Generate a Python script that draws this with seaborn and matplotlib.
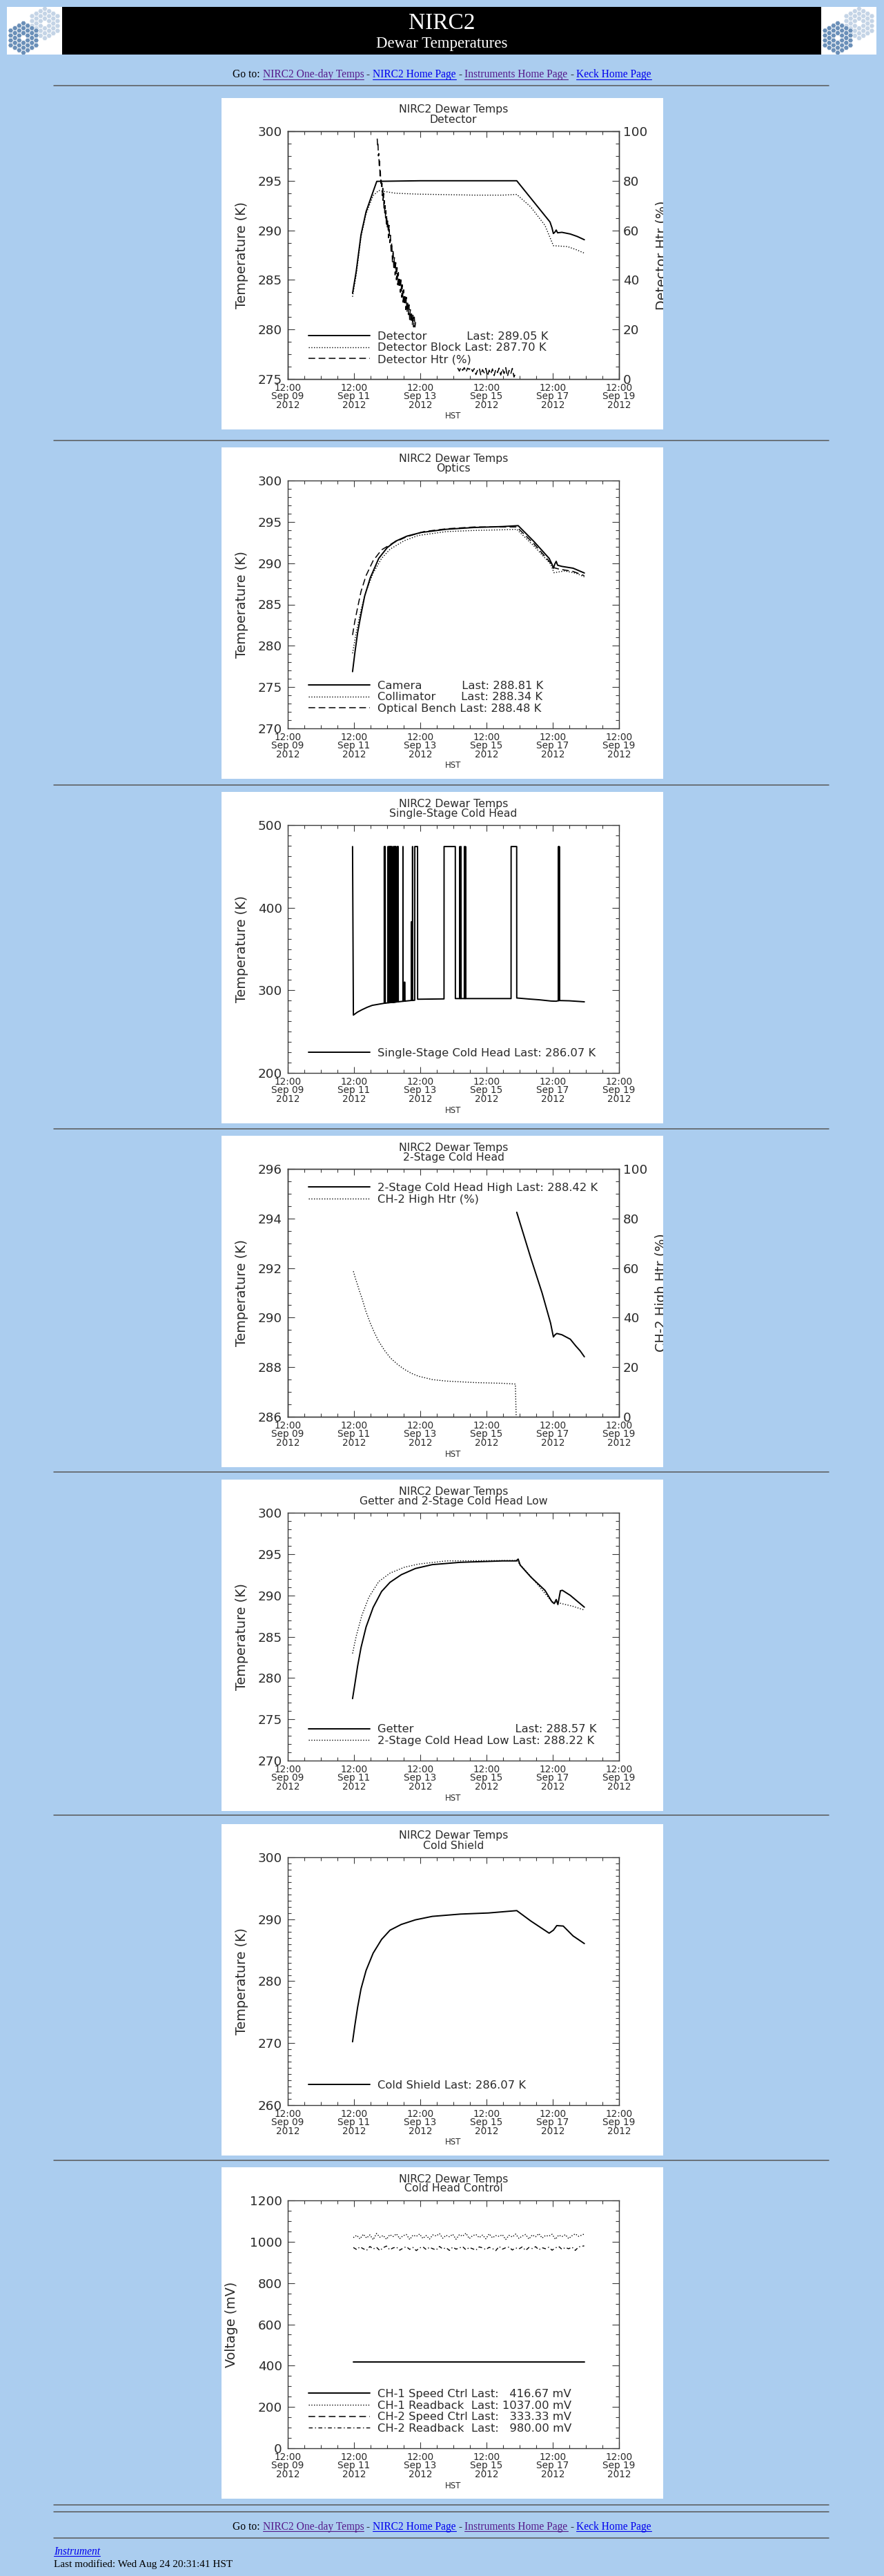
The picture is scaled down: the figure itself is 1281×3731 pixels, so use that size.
import numpy as np
import pandas as pd
import matplotlib
matplotlib.use("Agg")
import matplotlib.pyplot as plt
from matplotlib.lines import Line2D
from matplotlib.patches import Rectangle, RegularPolygon
from matplotlib.ticker import MultipleLocator, AutoMinorLocator, StrMethodFormatter
from matplotlib.transforms import Bbox, TransformedBbox
import seaborn as sns

# ------------------------------------------------------------------ data
# time axis: days since 12:00 HST, Sep 09 2012
T0 = "2012-09-09 12:00"
xtick_labels = ["12:00\nSep 09\n2012", "12:00\nSep 11\n2012", "12:00\nSep 13\n2012",
                "12:00\nSep 15\n2012", "12:00\nSep 17\n2012", "12:00\nSep 19\n2012"]

# Panel 1 - Detector
det_day = [1.956, 2.066, 2.211, 2.364, 2.534, 2.687, 4.000, 5.500, 6.913, 7.917,
           7.976, 8.019, 8.061, 8.104, 8.146, 8.274, 8.529, 8.741, 8.954]
det_temp = [283.65, 285.85, 289.56, 291.88, 293.50, 294.94, 295.00, 295.00, 295.00, 290.84,
            290.26, 289.68, 289.80, 290.03, 289.75, 289.80, 289.63, 289.38, 289.05]
blk_day = [1.956, 2.066, 2.211, 2.364, 2.577, 2.747, 2.917, 3.257, 3.937, 4.787,
           5.638, 6.488, 6.913, 7.338, 7.764, 8.019, 8.444, 8.699, 8.954]
blk_temp = [283.30, 285.50, 289.33, 291.65, 293.50, 294.02, 293.92, 293.74, 293.65, 293.60,
            293.55, 293.55, 293.62, 292.35, 290.50, 288.45, 288.36, 288.06, 287.70]
htrA_day = [2.700, 2.712, 2.724, 2.736, 2.748, 2.760, 2.772, 2.784, 2.796, 2.808,
            2.820, 2.832, 2.844, 2.856, 2.868, 2.880, 2.892, 2.904, 2.916, 2.928,
            2.940, 2.952, 2.964, 2.976, 2.988, 3.000, 3.020, 3.040, 3.060, 3.080,
            3.100, 3.120, 3.140, 3.160, 3.180, 3.200, 3.220, 3.240, 3.260, 3.280,
            3.300, 3.320, 3.340, 3.360, 3.380, 3.400, 3.420, 3.440, 3.460, 3.480,
            3.500, 3.520, 3.540, 3.560, 3.580, 3.600, 3.620, 3.640, 3.660, 3.680,
            3.700, 3.720, 3.740, 3.760, 3.780, 3.800, 3.820, 3.840, 3.860]
htrA_pct = [97, 94, 95, 90, 91, 86, 88, 82, 84, 79,
            81, 77, 79, 74, 77, 72, 75, 69, 72, 67,
            70, 65, 68, 62, 66, 61, 64, 57, 62, 55,
            58, 51, 55, 47, 52, 45, 49, 42, 47, 40,
            45, 38, 43, 37, 41, 35, 40, 33, 38, 31,
            36, 30, 34, 28, 33, 27, 31, 26, 30, 24,
            28, 23, 27, 22, 26, 21, 25, 21, 23]
htrB_day = [5.13, 5.18, 5.23, 5.28, 5.33, 5.38, 5.43, 5.48, 5.53, 5.58,
            5.63, 5.68, 5.73, 5.78, 5.83, 5.88, 5.93, 5.98, 6.03, 6.08,
            6.13, 6.18, 6.23, 6.28, 6.33, 6.38, 6.43, 6.48, 6.53, 6.58,
            6.63, 6.68, 6.73, 6.78, 6.83, 6.88]
htrB_pct = [4.5, 3.2, 4.8, 3.5, 4.6, 2.8, 4.4, 3.9, 4.7, 3.0,
            4.2, 1.8, 3.6, 4.5, 1.5, 3.8, 2.5, 4.3, 1.2, 3.6,
            2.0, 4.1, 1.4, 3.9, 2.6, 4.4, 1.6, 4.2, 2.2, 4.6,
            1.0, 3.5, 2.0, 4.3, 0.8, 2.5]

# Panel 2 - Optics
cam_day = [1.956, 2.024, 2.109, 2.211, 2.321, 2.491, 2.747, 3.002, 3.257, 3.597, 4.022, 4.787,
           5.638, 6.488, 6.956, 7.423, 7.891, 7.976, 8.019, 8.061, 8.104, 8.146, 8.274, 8.614, 8.954]
cam_temp = [276.87, 279.09, 281.58, 283.80, 286.01, 288.23, 290.58, 291.88, 292.66, 293.27, 293.71, 294.10,
            294.32, 294.43, 294.54, 292.66, 290.58, 289.89, 289.39, 289.89, 290.22, 289.75, 289.61, 289.39, 288.81]
col_day = [1.956, 2.066, 2.211, 2.364, 2.577, 2.832, 3.087, 3.512, 3.937, 4.787,
           5.638, 6.488, 6.913, 7.423, 7.934, 8.036, 8.359, 8.699, 8.954]
col_temp = [279.09, 281.58, 284.35, 286.57, 288.78, 290.58, 291.69, 292.71, 293.35, 293.82,
            293.96, 294.04, 294.10, 292.11, 289.89, 288.84, 289.06, 288.78, 288.34]
ben_day = [1.956, 2.024, 2.109, 2.211, 2.364, 2.577, 2.832, 3.172, 3.597, 4.107,
           4.787, 5.638, 6.913, 7.423, 7.934, 8.019, 8.189, 8.614, 8.954]
ben_temp = [281.30, 282.96, 284.63, 286.57, 288.50, 290.30, 291.61, 292.44, 293.21, 293.82,
            294.16, 294.38, 294.38, 292.38, 290.03, 289.47, 289.28, 289.00, 288.48]

# Panel 3 - Single-Stage Cold Head
ssch_day = [1.956, 1.981, 2.100, 2.240, 2.400, 2.550, 2.750, 2.912,
            2.914, 2.918, 2.938, 2.940, 2.944,
            3.025, 3.027, 3.031, 3.058, 3.060, 3.064,
            3.085, 3.087, 3.091, 3.110, 3.112, 3.116,
            3.136, 3.138, 3.142, 3.178, 3.180, 3.184, 3.188, 3.191,
            3.212, 3.214, 3.218, 3.238, 3.240, 3.244,
            3.263, 3.265, 3.269, 3.306, 3.308, 3.312,
            3.331, 3.333, 3.337, 3.476, 3.478, 3.482,
            3.527, 3.529, 3.533, 3.731, 3.733, 3.737,
            3.765, 3.767, 3.771, 3.833, 3.835, 3.918, 3.920,
            4.300, 4.717, 4.719, 5.058, 5.060,
            5.194, 5.196, 5.200, 5.228, 5.230, 5.234,
            5.330, 5.332, 5.336, 5.364, 5.366, 5.370,
            6.741, 6.743, 6.911, 6.913,
            7.300, 7.600, 7.950, 8.100, 8.170, 8.172, 8.176, 8.195, 8.197, 8.201,
            8.500, 8.800, 8.954]
ssch_temp = [474, 270.0, 273.5, 276.5, 279.5, 281.8, 283.2, 284.3,
             474, 284.3, 284.4, 474, 284.4,
             284.9, 474, 284.9, 285.0, 474, 285.0,
             285.1, 474, 285.1, 285.2, 474, 285.2,
             285.3, 474, 285.3, 285.5, 474, 285.5, 325, 285.5,
             285.6, 474, 285.6, 285.7, 474, 285.7,
             285.8, 474, 285.8, 286.0, 474, 286.0,
             286.1, 474, 286.1, 286.7, 474, 286.7,
             286.9, 310, 286.9, 287.7, 383, 287.7,
             287.8, 474, 287.8, 288.0, 474, 474, 289.2,
             289.4, 289.6, 474, 474, 290.0,
             290.0, 474, 290.0, 290.0, 474, 290.0,
             290.0, 474, 290.0, 290.0, 474, 290.0,
             290.0, 474, 474, 290.7,
             289.4, 288.5, 287.0, 286.8, 287.4, 474, 287.5, 287.6, 474, 287.6,
             287.3, 286.5, 286.07]

# Panel 4 - 2-Stage Cold Head
ch2hi_day = [6.913, 7.338, 7.679, 7.934, 8.019, 8.070, 8.121, 8.274, 8.529, 8.699, 8.827, 8.954]
ch2hi_temp = [294.25, 292.40, 290.99, 289.78, 289.22, 289.31, 289.36, 289.31, 289.13, 288.85, 288.66, 288.42]
ch2htr_day = [1.981, 2.050, 2.109, 2.170, 2.236, 2.360, 2.491, 2.620, 2.747, 2.920, 3.087, 3.300,
              3.512, 3.720, 3.937, 4.362, 4.787, 5.638, 6.488, 6.871, 6.896]
ch2htr_pct = [58.7, 55.5, 53.1, 50.5, 48.0, 42.5, 37.8, 33.8, 30.4, 26.8, 23.9, 21.3,
              19.2, 17.6, 16.4, 15.0, 14.4, 13.8, 13.5, 13.2, 0.0]

# Panel 5 - Getter and 2-Stage Cold Head Low
get_day = [1.956, 2.024, 2.109, 2.211, 2.364, 2.577, 2.832, 3.087, 3.427, 3.852, 4.362, 5.213, 6.488,
           6.896, 6.956, 7.015, 7.338, 7.764, 7.976, 8.044, 8.104, 8.155, 8.231, 8.291, 8.529, 8.954]
get_temp = [277.50, 279.22, 281.44, 283.67, 286.17, 288.53, 290.47, 291.58, 292.50, 293.25, 293.72, 294.00, 294.17,
            294.17, 294.39, 293.67, 292.22, 290.61, 289.22, 289.00, 289.50, 288.89, 290.56, 290.61, 290.00, 288.57]
low_day = [1.956, 2.066, 2.236, 2.449, 2.747, 3.087, 3.512, 3.937, 4.787, 6.913,
           7.015, 7.338, 7.976, 8.189, 8.614, 8.954]
low_temp = [282.97, 285.06, 287.56, 289.78, 291.67, 292.69, 293.39, 293.78, 294.17, 294.22,
            293.72, 292.28, 289.22, 289.08, 288.67, 288.22]

# Panel 6 - Cold Shield
shd_day = [1.956, 2.024, 2.109, 2.211, 2.364, 2.577, 2.832, 3.087, 3.427, 3.852,
           4.362, 5.213, 6.063, 6.913, 7.338, 7.891, 8.019, 8.121, 8.316, 8.614, 8.954]
shd_temp = [270.22, 272.82, 275.79, 278.76, 281.73, 284.52, 286.74, 288.23, 289.16, 289.90,
            290.46, 290.83, 291.01, 291.39, 289.71, 287.75, 288.23, 288.97, 288.90, 287.30, 286.07]

# Panel 7 - Cold Head Control
ch1spd_day = [1.98, 8.95]
ch1spd_mv = [416.67, 416.67]
ctrl_day = [1.98, 2.08, 2.18, 2.28, 2.38, 2.48, 2.58, 2.68, 2.78, 2.88,
            2.98, 3.08, 3.18, 3.28, 3.38, 3.48, 3.58, 3.68, 3.78, 3.88,
            3.98, 4.08, 4.18, 4.28, 4.38, 4.48, 4.58, 4.68, 4.78, 4.88,
            4.98, 5.08, 5.18, 5.28, 5.38, 5.48, 5.58, 5.68, 5.78, 5.88,
            5.98, 6.08, 6.18, 6.28, 6.38, 6.48, 6.58, 6.68, 6.78, 6.88,
            6.98, 7.08, 7.18, 7.28, 7.38, 7.48, 7.58, 7.68, 7.78, 7.88,
            7.98, 8.08, 8.18, 8.28, 8.38, 8.48, 8.58, 8.68, 8.78, 8.95]
ch1rb_mv = [1020, 1031, 1014, 1036, 1018, 1033, 1010, 1040, 1022, 1030,
            1012, 1034, 1025, 1038, 1015, 1029, 1035, 1011, 1032, 1026,
            1037, 1016, 1030, 1013, 1033, 1028, 1039, 1017, 1031, 1024,
            1036, 1012, 1034, 1027, 1041, 1015, 1029, 1035, 1020, 1032,
            1014, 1038, 1019, 1030, 1026, 1034, 1011, 1031, 1023, 1037,
            1016, 1028, 1035, 1013, 1033, 1024, 1039, 1018, 1030, 1027,
            1036, 1012, 1032, 1025, 1034, 1015, 1029, 1038, 1026, 1037]
ch2rb_mv = [972, 962, 975, 966, 958, 977, 965, 973, 957, 971,
            979, 961, 970, 974, 959, 969, 976, 963, 972, 957,
            970, 975, 962, 973, 966, 960, 977, 965, 971, 958,
            974, 964, 970, 976, 961, 972, 966, 959, 975, 970,
            962, 973, 967, 957, 977, 964, 971, 974, 960, 970,
            965, 975, 958, 972, 967, 976, 961, 971, 966, 973,
            959, 970, 977, 963, 972, 966, 974, 958, 975, 980]

# ------------------------------------------------------------------ style
PAGE_BG = "#abcdef"
TXT = "#2b2b2b"
AXC = "#3a3a3a"
LINK = "#0000ee"
VISITED = "#551a8b"
SERIF = "Liberation Serif"

W, H, DPI = 1281, 3731, 100
sns.set_theme(style="ticks")
plt.rcParams["font.family"] = ["DejaVu Sans"]
plt.rcParams["lines.scale_dashes"] = False
plt.rcParams["axes.linewidth"] = 1.0

SOLID = dict(color="black", linewidth=1.4, linestyle="-")
DOT = dict(color="black", linewidth=1.0, linestyle=(0, (1.0, 1.7)))
DASH = dict(color="black", linewidth=1.1, linestyle=(0, (7, 3.6)))
DASHDOT = dict(color="black", linewidth=1.0, linestyle=(0, (4, 2.5, 1, 2.5)))

fig = plt.figure(figsize=(W / DPI, H / DPI), dpi=DPI, facecolor=PAGE_BG)


def fx(px):
    return px / W


def fy(py):
    return 1 - py / H


def to_time(days):
    return pd.Timestamp(T0) + pd.to_timedelta(np.asarray(days, dtype=float), unit="D")


def panel(top, subtitle):
    fig.add_artist(Rectangle((fx(321), fy(top + 480)), 640 / W, 480 / H,
                             transform=fig.transFigure, facecolor="white",
                             edgecolor="none", zorder=-5))
    ax = fig.add_axes([fx(417), fy(top + 48 + 359), 480 / W, 359 / H])
    ax.set_facecolor("white")
    fig.text(fx(657), fy(top + 17), "NIRC2 Dewar Temps", ha="center", va="center",
             fontsize=11.3, color=TXT)
    fig.text(fx(657), fy(top + 31), subtitle, ha="center", va="center",
             fontsize=11.3, color=TXT)
    return ax


def draw_series(ax, days, vals, st, seg=None):
    df = pd.DataFrame({"time": to_time(days), "value": vals})
    kw = {}
    if seg is not None:
        df["seg"] = seg
        kw["units"] = "seg"
    sns.lineplot(data=df, x="time", y="value", ax=ax, estimator=None, sort=False,
                 legend=False, **kw, **st)


def style_x(ax):
    ax.set_xlim(to_time([0])[0], to_time([10])[0])
    major = pd.date_range(T0, periods=6, freq="2D")
    minor = pd.date_range(T0, periods=21, freq="12h")
    ax.set_xticks(major, labels=xtick_labels)
    ax.set_xticks(minor, minor=True)
    ax.tick_params(axis="x", which="both", direction="in", top=True, bottom=True,
                   colors=AXC, labelcolor=TXT, labelsize=9.8, pad=4.3)
    ax.tick_params(axis="x", which="major", length=6.5, width=0.8)
    ax.tick_params(axis="x", which="minor", length=3.6, width=0.8)
    for lab in ax.get_xticklabels():
        lab.set_linespacing(0.85)
    ax.set_xlabel("HST", fontsize=8.5, color=TXT)
    ax.xaxis.set_label_coords(0.5, -54 / 359)
    ax.xaxis.label.set_va("center")


def finish_axes(ax, ylim, major, nminor, ylabel, ylx=-66, mirror=True):
    ax.set_ylim(*ylim)
    ax.yaxis.set_major_locator(MultipleLocator(major))
    ax.yaxis.set_minor_locator(AutoMinorLocator(nminor))
    ax.yaxis.set_major_formatter(StrMethodFormatter("{x:.0f}"))
    ax.tick_params(axis="y", which="both", direction="in", left=True, right=mirror,
                   labelleft=True, labelright=False, colors=AXC, labelcolor=TXT,
                   labelsize=13.2, pad=5.8)
    ax.tick_params(axis="y", which="major", length=7, width=0.8)
    ax.tick_params(axis="y", which="minor", length=3.6, width=0.8)
    ax.set_ylabel(ylabel, fontsize=13.8, color=TXT)
    ax.yaxis.set_label_coords(ylx / 480, 0.5)
    ax.yaxis.label.set_va("center")
    style_x(ax)
    for sp in ax.spines.values():
        sp.set_color(AXC)
        sp.set_linewidth(1.0)


def finish_right(ax2, top, label):
    ax2.set_ylim(0, 100)
    ax2.yaxis.set_major_locator(MultipleLocator(20))
    ax2.yaxis.set_minor_locator(AutoMinorLocator(4))
    ax2.yaxis.set_major_formatter(StrMethodFormatter("{x:.0f}"))
    ax2.tick_params(axis="y", which="both", direction="in", left=False, right=True,
                    labelleft=False, labelright=True, colors=AXC, labelcolor=TXT,
                    labelsize=13.2, pad=4.3)
    ax2.tick_params(axis="y", which="major", length=7, width=0.8)
    ax2.tick_params(axis="y", which="minor", length=3.6, width=0.8)
    ax2.set_ylabel(label, fontsize=13.8, color=TXT)
    ax2.yaxis.set_label_coords(1 + 62 / 480, 0.5)
    ax2.yaxis.label.set_va("center")
    ax2.yaxis.label.set_rotation(90)
    clip = TransformedBbox(Bbox.from_extents(fx(321), fy(top + 480), fx(961), fy(top)),
                           fig.transFigure)
    ax2.yaxis.label.set_clip_box(clip)
    ax2.yaxis.label.set_clip_on(True)
    for sp in ax2.spines.values():
        sp.set_color(AXC)
        sp.set_linewidth(1.0)


def legend(ax, styles, labels, where="lower"):
    handles = [Line2D([], [], **st) for st in styles]
    if where == "lower":
        loc, anchor = "lower left", (30 / 480, 21 / 359)
    else:
        loc, anchor = "upper left", (30 / 480, 1 - 20 / 359)
    leg = ax.legend(handles, labels, loc=loc, bbox_to_anchor=anchor, frameon=False,
                    fontsize=11.8, handlelength=5.4, handletextpad=0.7,
                    labelspacing=0.1, borderpad=0, borderaxespad=0)
    for t in leg.get_texts():
        t.set_color(TXT)


# ------------------------------------------------------------------ header
fig.add_artist(Rectangle((fx(90), fy(79)), 1100 / W, 69 / H, transform=fig.transFigure,
                         facecolor="black", edgecolor="none", zorder=-5))


def logo(x0):
    lax = fig.add_axes([fx(x0), fy(79), 80 / W, 69 / H])
    lax.set_xlim(0, 80)
    lax.set_ylim(69, 0)
    lax.axis("off")
    lax.add_patch(Rectangle((0, 0), 80, 69, facecolor="white", edgecolor="none"))
    s = 4.1
    for cx, cy, col in [(55.0, 24.0, "#c4d4e6"), (24.0, 45.0, "#6a8fb8")]:
        for q in range(-3, 4):
            for r in range(-3, 4):
                if max(abs(q), abs(r), abs(q + r)) > 3:
                    continue
                if q == 0 and r == 0:
                    continue
                x = cx + 1.5 * s * q
                y = cy + np.sqrt(3) * s * (r + q / 2)
                lax.add_patch(RegularPolygon((x, y), 6, radius=s * 0.93,
                                             orientation=np.pi / 6, facecolor=col,
                                             edgecolor="white", lw=0.4))


logo(10)
logo(1190)
fig.text(fx(640), fy(41.5), "NIRC2", color="white", fontsize=24, family=SERIF,
         ha="center", va="baseline")
fig.text(fx(640), fy(68.5), "Dewar Temperatures", color="white", fontsize=16.5,
         family=SERIF, ha="center", va="baseline")

renderer = fig.canvas.get_renderer()


def seg_width(s, size, style="normal"):
    t1 = fig.text(0, 0, "|" + s + "|", fontsize=size, family=SERIF, style=style)
    t2 = fig.text(0, 0, "||", fontsize=size, family=SERIF, style=style)
    w = t1.get_window_extent(renderer).width - t2.get_window_extent(renderer).width
    t1.remove()
    t2.remove()
    return w


def rich_line(y_base, pieces, size, center=None, left=None):
    widths = [seg_width(p[0], size, p[3] if len(p) > 3 else "normal") for p in pieces]
    x = center - sum(widths) / 2 if center is not None else left
    for p, w in zip(pieces, widths):
        s, col, link = p[0], p[1], p[2]
        style = p[3] if len(p) > 3 else "normal"
        fig.text(fx(x), fy(y_base), s, color=col, fontsize=size, family=SERIF,
                 style=style, ha="left", va="baseline")
        if link:
            fig.add_artist(Line2D([fx(x), fx(x + w)], [fy(y_base + 2)] * 2, color=col,
                                  lw=0.8, transform=fig.transFigure))
        x += w


goto = [("Go to: ", "black", False), ("NIRC2 One-day Temps", VISITED, True),
        (" - ", "black", False), ("NIRC2 Home Page", LINK, True),
        (" - ", "black", False), ("Instruments Home Page", VISITED, True),
        (" - ", "black", False), ("Keck Home Page", LINK, True)]
rich_line(112.5, goto, 11.2, center=640.5)

for yy in [124, 638, 1137, 1635, 2132, 2629, 3129, 3628, 3638, 3676]:
    fig.add_artist(Line2D([fx(78), fx(1201)], [fy(yy), fy(yy)], color="#585858",
                          lw=1.1, transform=fig.transFigure))

rich_line(3664, goto, 11.2, center=640.5)
rich_line(3700, [("Instrument", LINK, True, "italic")], 11.2, left=78)
fig.text(fx(78), fy(3718), "Last modified: Wed Aug 24 20:31:41 HST", color="black",
         fontsize=11.0, family=SERIF, ha="left", va="baseline")

# ------------------------------------------------------------------ panel 1
top = 142
ax = panel(top, "Detector")
ax2 = ax.twinx()
draw_series(ax, det_day, det_temp, SOLID)
draw_series(ax, blk_day, blk_temp, DOT)
draw_series(ax2, htrA_day + htrB_day, htrA_pct + htrB_pct, DASH,
            seg=["a"] * len(htrA_day) + ["b"] * len(htrB_day))
finish_axes(ax, (275, 300), 5, 4, "Temperature (K)", mirror=False)
finish_right(ax2, top, "Detector Htr (%)")
legend(ax2, [SOLID, DOT, DASH],
       ["Detector           Last: 289.05 K",
        "Detector Block Last: 287.70 K",
        "Detector Htr (%)"])

# ------------------------------------------------------------------ panel 2
ax = panel(648, "Optics")
draw_series(ax, cam_day, cam_temp, SOLID)
draw_series(ax, col_day, col_temp, DOT)
draw_series(ax, ben_day, ben_temp, DASH)
finish_axes(ax, (270, 300), 5, 5, "Temperature (K)")
legend(ax, [SOLID, DOT, DASH],
       ["Camera           Last: 288.81 K",
        "Collimator       Last: 288.34 K",
        "Optical Bench Last: 288.48 K"])

# ------------------------------------------------------------------ panel 3
ax = panel(1147, "Single-Stage Cold Head")
draw_series(ax, ssch_day, ssch_temp, SOLID)
finish_axes(ax, (200, 500), 100, 8, "Temperature (K)")
legend(ax, [SOLID], ["Single-Stage Cold Head Last: 286.07 K"])

# ------------------------------------------------------------------ panel 4
top = 1645
ax = panel(top, "2-Stage Cold Head")
ax2 = ax.twinx()
draw_series(ax, ch2hi_day, ch2hi_temp, SOLID)
draw_series(ax2, ch2htr_day, ch2htr_pct, DOT)
finish_axes(ax, (286, 296), 2, 4, "Temperature (K)", mirror=False)
finish_right(ax2, top, "CH-2 High Htr (%)")
legend(ax2, [SOLID, DOT],
       ["2-Stage Cold Head High Last: 288.42 K", "CH-2 High Htr (%)"], where="upper")

# ------------------------------------------------------------------ panel 5
ax = panel(2143, "Getter and 2-Stage Cold Head Low")
draw_series(ax, get_day, get_temp, SOLID)
draw_series(ax, low_day, low_temp, DOT)
finish_axes(ax, (270, 300), 5, 5, "Temperature (K)")
legend(ax, [SOLID, DOT],
       ["Getter" + " " * 28 + "Last: 288.57 K",
        "2-Stage Cold Head Low Last: 288.22 K"])

# ------------------------------------------------------------------ panel 6
ax = panel(2642, "Cold Shield")
draw_series(ax, shd_day, shd_temp, SOLID)
finish_axes(ax, (260, 300), 10, 10, "Temperature (K)")
legend(ax, [SOLID], ["Cold Shield Last: 286.07 K"])

# ------------------------------------------------------------------ panel 7
ax = panel(3139, "Cold Head Control")
draw_series(ax, ch1spd_day, ch1spd_mv, SOLID)
draw_series(ax, ctrl_day, ch1rb_mv, DOT)
draw_series(ax, ctrl_day, ch2rb_mv, DASHDOT)
finish_axes(ax, (0, 1200), 200, 4, "Voltage (mV)", ylx=-81)
legend(ax, [SOLID, DOT, DASH, DASHDOT],
       ["CH-1 Speed Ctrl Last:   416.67 mV",
        "CH-1 Readback  Last: 1037.00 mV",
        "CH-2 Speed Ctrl Last:   333.33 mV",
        "CH-2 Readback  Last:   980.00 mV"])

fig.savefig("out.png", dpi=DPI, facecolor=PAGE_BG)
